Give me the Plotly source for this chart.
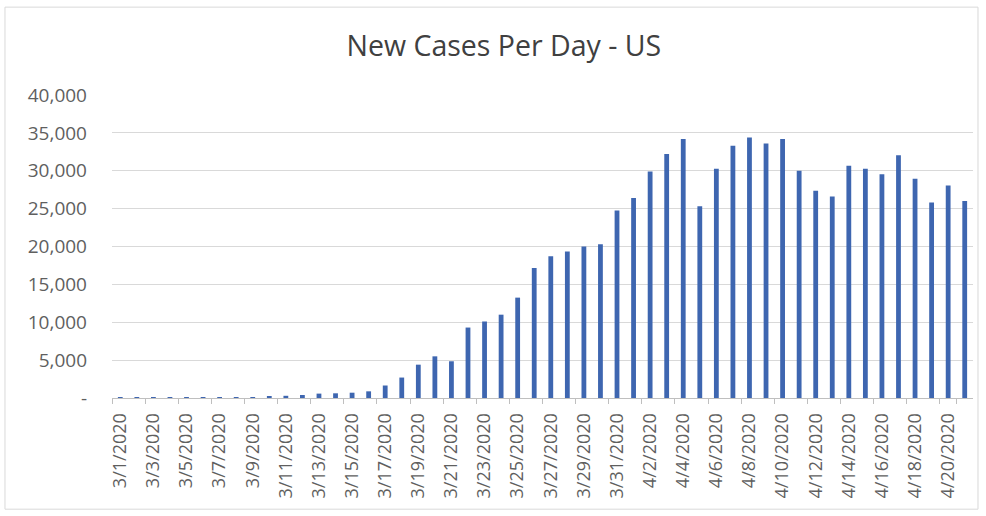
import plotly.graph_objects as go

dates = [f"3/{d}/2020" for d in range(1, 32)] + [f"4/{d}/2020" for d in range(1, 22)]

new_cases = [
    5, 10, 20, 30, 35, 60, 75, 100, 120,          # 3/1 - 3/9
    260, 290, 400, 580, 620, 700, 880, 1650,      # 3/10 - 3/17
    2700, 4400, 5500, 4850, 9300, 10100, 11000,   # 3/18 - 3/24
    13250, 17150, 18700, 19350, 20000, 20300,     # 3/25 - 3/30
    24750, 26400, 29900, 32200, 34200, 25300,     # 3/31 - 4/5
    30250, 33300, 34400, 33600, 34200, 30000,     # 4/6 - 4/11
    27350, 26600, 30650, 30250, 29550, 32050,     # 4/12 - 4/17
    28950, 25800, 28050, 26000,                   # 4/18 - 4/21
]

tick_dates = dates[::2]
y_ticks = [0, 5000, 10000, 15000, 20000, 25000, 30000, 35000, 40000]
y_tick_text = ["-", "5,000", "10,000", "15,000", "20,000", "25,000", "30,000", "35,000", "40,000"]

title_text = "New Cases Per Day - US"

fig = go.Figure()
fig.add_trace(go.Bar(
    x=dates,
    y=new_cases,
    marker=dict(color="#3E66B0", line=dict(width=0)),
))

fig.update_layout(
    width=986,
    height=516,
    paper_bgcolor="white",
    plot_bgcolor="white",
    margin=dict(l=112, r=13, t=95, b=118),
    bargap=0.71,
    showlegend=False,
    font=dict(family="Open Sans, sans-serif", color="#5f5f5f"),
    title=dict(
        text=title_text,
        x=0.511, xref="container", xanchor="center",
        y=0.91, yref="container", yanchor="middle",
        font=dict(size=28.5, color="#404040", family="Open Sans, sans-serif"),
    ),
    xaxis=dict(
        type="category",
        tickmode="array",
        tickvals=tick_dates,
        ticktext=tick_dates,
        tickangle=-90,
        tickfont=dict(size=18, color="#5f5f5f"),
        showgrid=False,
        showline=True,
        linecolor="#BFBFBF",
        linewidth=1,
        ticks="outside",
        ticklen=5,
        tickcolor="#BFBFBF",
        tickson="boundaries",
        ticklabelstandoff=7,
        zeroline=False,
    ),
    yaxis=dict(
        range=[0, 40000],
        tickmode="array",
        tickvals=y_ticks,
        ticktext=y_tick_text,
        tickfont=dict(size=19, color="#5f5f5f"),
        showgrid=True,
        gridcolor="#D9D9D9",
        gridwidth=1,
        zeroline=False,
        showline=False,
        ticks="",
        ticklabelstandoff=24,
        fixedrange=True,
    ),
    shapes=[
        dict(
            type="rect", xref="paper", yref="paper",
            x0=-0.1243, x1=1.0058, y0=-0.367, y1=1.29,
            line=dict(color="#D9D9D9", width=1),
            fillcolor="rgba(0,0,0,0)",
            layer="below",
        )
    ],
)

fig.write_html(
    "out.html",
    config={"displayModeBar": False},
    post_script="document.body.style.margin='0';",
)
